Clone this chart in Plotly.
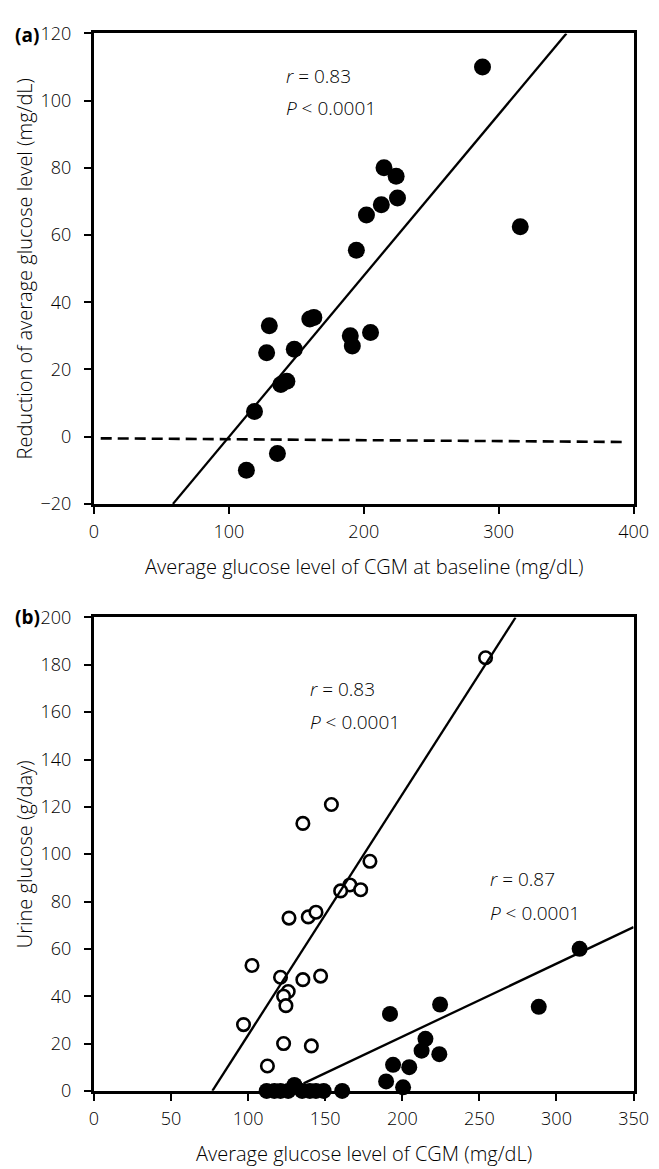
import plotly.graph_objects as go

# ---------------- Panel (a) data ----------------
a_x = [288, 316, 215, 224, 225, 213, 202, 194.5, 130, 160, 163, 128, 148.5,
       190, 191.5, 205, 143, 138.5, 119, 136, 113]
a_y = [110, 62.5, 80, 77.5, 71, 69, 66, 55.5, 33, 35, 35.5, 25, 26,
       30, 27, 31, 16.5, 15.5, 7.5, -5, -10]
a_fit_slope, a_fit_intercept = 0.48, -48.1
a_ref_slope, a_ref_intercept = -0.0028, -0.48
a_ref_xrange = [5, 394]
a_xrange = [0, 400]
a_yrange = [-20, 120]
a_xticks = [0, 100, 200, 300, 400]
a_yticks = [-20, 0, 20, 40, 60, 80, 100, 120]

# ---------------- Panel (b) data ----------------
b_open_x = [254, 154, 135.5, 179, 166, 160, 173, 126.5, 139, 144, 102.5,
            121, 135.5, 147, 126, 123, 124.5, 97, 123, 141, 112.5]
b_open_y = [183, 121, 113, 97, 87, 84.5, 85, 73, 73.5, 75.5, 53,
            48, 47, 48.5, 42, 40, 36, 28, 20, 19, 10.5]
b_fill_x = [315, 288.5, 224.5, 192, 215, 212.5, 224, 194, 204.5, 189.5, 200.5,
            112, 117, 121, 126, 130, 135, 140, 144, 149, 161]
b_fill_y = [60, 35.5, 36.5, 32.5, 22, 17, 15.5, 11, 10, 4, 1.5,
            0, 0, 0, 0, 2.5, 0, 0, 0, 0, 0]
b_open_slope, b_open_intercept = 1.017, -78.1
b_fill_slope, b_fill_intercept = 0.3085, -38.8
b_fill_xstart = 136
b_xrange = [0, 350]
b_yrange = [0, 200]
b_xticks = [0, 50, 100, 150, 200, 250, 300, 350]
b_yticks = [0, 20, 40, 60, 80, 100, 120, 140, 160, 180, 200]

W, H = 659, 1169
FONT = "Open Sans"
TXT = "black"

fig = go.Figure()

# ---- Panel (a) ----
fig.add_trace(go.Scatter(x=a_x, y=a_y, mode="markers", xaxis="x", yaxis="y",
                         marker=dict(size=17, color="black"), showlegend=False,
                         cliponaxis=False))
ax0 = (a_yrange[0] - a_fit_intercept) / a_fit_slope
ax1 = (a_yrange[1] - a_fit_intercept) / a_fit_slope
fig.add_trace(go.Scatter(x=[ax0, ax1],
                         y=[a_fit_slope * ax0 + a_fit_intercept, a_fit_slope * ax1 + a_fit_intercept],
                         mode="lines", xaxis="x", yaxis="y",
                         line=dict(color="black", width=2.3), showlegend=False))
fig.add_trace(go.Scatter(x=a_ref_xrange,
                         y=[a_ref_slope * v + a_ref_intercept for v in a_ref_xrange],
                         mode="lines", xaxis="x", yaxis="y",
                         line=dict(color="black", width=2.6, dash="11px,6px"), showlegend=False))

# ---- Panel (b) ----
fig.add_trace(go.Scatter(x=b_open_x, y=b_open_y, mode="markers", xaxis="x2", yaxis="y2",
                         marker=dict(size=12.5, color="white", line=dict(color="black", width=2.6)),
                         showlegend=False, cliponaxis=False))
fig.add_trace(go.Scatter(x=b_fill_x, y=b_fill_y, mode="markers", xaxis="x2", yaxis="y2",
                         marker=dict(size=16, color="black"), showlegend=False, cliponaxis=False))
bx0 = (b_yrange[0] - b_open_intercept) / b_open_slope
bx1 = (b_yrange[1] - b_open_intercept) / b_open_slope
fig.add_trace(go.Scatter(x=[bx0, bx1],
                         y=[b_open_slope * bx0 + b_open_intercept, b_open_slope * bx1 + b_open_intercept],
                         mode="lines", xaxis="x2", yaxis="y2",
                         line=dict(color="black", width=2.3), showlegend=False))
fx = [b_fill_xstart, b_xrange[1]]
fig.add_trace(go.Scatter(x=fx, y=[b_fill_slope * v + b_fill_intercept for v in fx],
                         mode="lines", xaxis="x2", yaxis="y2",
                         line=dict(color="black", width=2.3), showlegend=False))

def px_x(p):
    return p / W

def px_y(p):
    return 1 - p / H

axis_common = dict(showline=True, linewidth=3, linecolor="black", mirror=True,
                   ticks="outside", ticklen=7, tickwidth=2, tickcolor="black",
                   showgrid=False, zeroline=False,
                   tickfont=dict(family=FONT, size=18, color=TXT, weight=300))

fig.update_layout(
    width=W, height=H, margin=dict(l=0, r=0, t=0, b=0),
    plot_bgcolor="white", paper_bgcolor="white",
    xaxis=dict(domain=[px_x(83.5), px_x(640)], anchor="y", range=a_xrange,
               tickvals=a_xticks, ticklabelstandoff=3, **axis_common),
    yaxis=dict(domain=[px_y(493), px_y(12.7)], anchor="x", range=a_yrange,
               tickvals=a_yticks, ticktext=[str(v).replace("-", "\u2212") for v in a_yticks],
               ticklabelstandoff=9, **axis_common),
    xaxis2=dict(domain=[px_x(83.5), px_x(640)], anchor="y2", range=b_xrange,
                tickvals=b_xticks, ticklabelstandoff=3, **axis_common),
    yaxis2=dict(domain=[px_y(1092.3), px_y(609)], anchor="x2", range=b_yrange,
                tickvals=b_yticks, ticklabelstandoff=9, **axis_common),
)

tfont = dict(family=FONT, size=20, color=TXT, weight=300)
sfont = dict(family=FONT, size=19, color=TXT, weight=300)
bfont = dict(family=FONT, size=19, color="black", weight=700)
annotations = [
    # axis titles
    dict(text="Average glucose level of CGM at baseline (mg/dL)", xref="paper", yref="paper",
         x=px_x(362), y=px_y(557), xanchor="center", yanchor="middle", showarrow=False, font=tfont),
    dict(text="Reduction of average glucose level (mg/dL)", xref="paper", yref="paper",
         x=px_x(12), y=px_y(253), xanchor="center", yanchor="middle", textangle=-90,
         showarrow=False, font=tfont),
    dict(text="Average glucose level of CGM (mg/dL)", xref="paper", yref="paper",
         x=px_x(362), y=px_y(1156), xanchor="center", yanchor="middle", showarrow=False, font=tfont),
    dict(text="Urine glucose (g/day)", xref="paper", yref="paper",
         x=px_x(12), y=px_y(851), xanchor="center", yanchor="middle", textangle=-90,
         showarrow=False, font=tfont),
    # panel labels
    dict(text="(a)", xref="paper", yref="paper", x=0, y=px_y(14), xanchor="left",
         yanchor="middle", showarrow=False, font=bfont),
    dict(text="(b)", xref="paper", yref="paper", x=0, y=px_y(608), xanchor="left",
         yanchor="middle", showarrow=False, font=bfont),
    # statistics
    dict(text="<i>r</i> = 0.83", xref="x", yref="y", x=141, y=107.2, xanchor="left",
         yanchor="middle", showarrow=False, font=sfont),
    dict(text="<i>P</i> < 0.0001", xref="x", yref="y", x=141, y=97.8, xanchor="left",
         yanchor="middle", showarrow=False, font=sfont),
    dict(text="<i>r</i> = 0.83", xref="x2", yref="y2", x=139, y=170, xanchor="left",
         yanchor="middle", showarrow=False, font=sfont),
    dict(text="<i>P</i> < 0.0001", xref="x2", yref="y2", x=139, y=156, xanchor="left",
         yanchor="middle", showarrow=False, font=sfont),
    dict(text="<i>r</i> = 0.87", xref="x2", yref="y2", x=255.5, y=89.4, xanchor="left",
         yanchor="middle", showarrow=False, font=sfont),
    dict(text="<i>P</i> < 0.0001", xref="x2", yref="y2", x=255.5, y=75, xanchor="left",
         yanchor="middle", showarrow=False, font=sfont),
]
fig.update_layout(annotations=annotations)

fig.write_html("out.html")
